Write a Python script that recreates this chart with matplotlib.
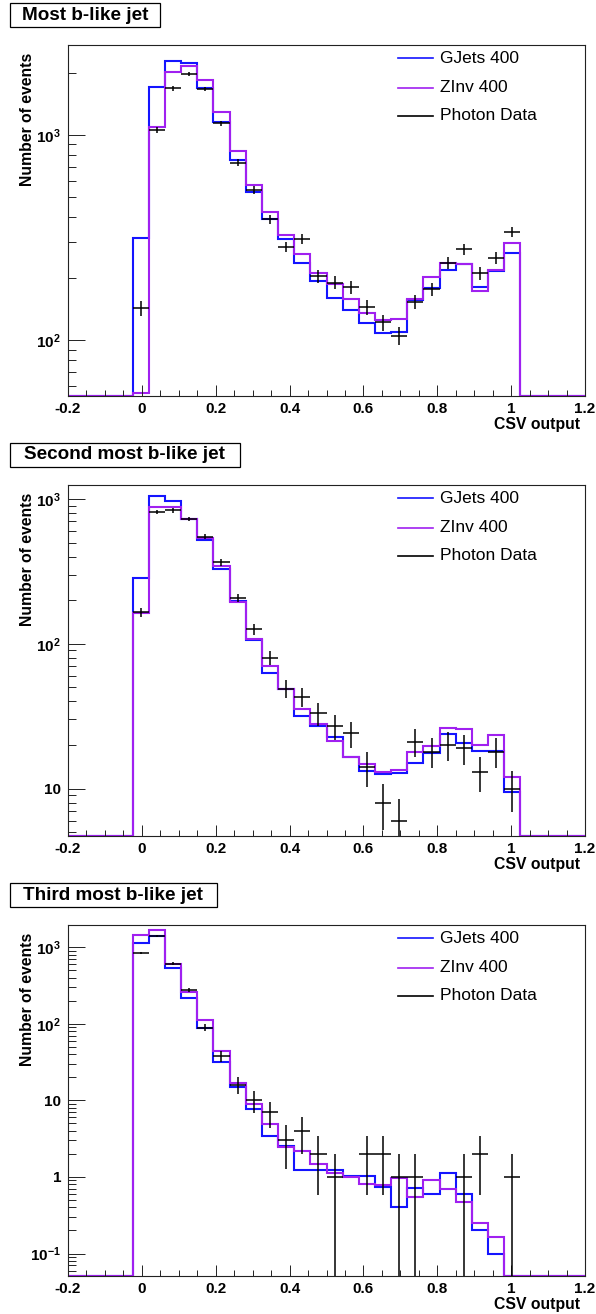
import numpy as np
import matplotlib
matplotlib.use('Agg')
import matplotlib.pyplot as plt
from matplotlib.ticker import LogLocator, NullFormatter, MultipleLocator, FuncFormatter
from matplotlib.patches import Rectangle
from matplotlib.lines import Line2D

plt.rcParams['font.family'] = ['Liberation Sans', 'DejaVu Sans']
plt.rcParams['font.weight'] = 'bold'
plt.rcParams['mathtext.fontset'] = 'custom'
plt.rcParams['mathtext.rm'] = 'Liberation Sans:bold'
plt.rcParams['mathtext.bf'] = 'Liberation Sans:bold'
plt.rcParams['mathtext.it'] = 'Liberation Sans:bold'
plt.rcParams['mathtext.default'] = 'regular'

# ---------------- data ----------------
bin_edges = np.linspace(-0.2, 1.2, 33)   # 32 bins of CSV output
first_bin = 4                            # first filled bin (starts at -0.025)

titles = ["Most b-like jet", "Second most b-like jet", "Third most b-like jet"]
series_names = ["GJets 400", "ZInv 400", "Photon Data"]
x_label = "CSV output"
y_label = "Number of events"
x_ticks = [-0.2, 0.0, 0.2, 0.4, 0.6, 0.8, 1.0, 1.2]
x_tick_labels = ["-0.2", "0", "0.2", "0.4", "0.6", "0.8", "1", "1.2"]

gjets_1 = [314, 1720, 2310, 2250, 1690, 1160, 755, 530, 391, 310, 239, 194,
           161, 140, 121, 108, 109, 157, 179, 221, 235, 181, 218, 265]
zinv_1 = [55, 1090, 2030, 2180, 1850, 1300, 832, 570, 421, 325, 263, 213,
          188, 158, 135, 125, 127, 158, 204, 237, 235, 173, 220, 298]
data_1 = [143, 1057, 1689, 1991, 1683, 1140, 735, 541, 389, 285, 311, 205,
          191, 181, 145, 122, 105, 154, 177, 238, 277, 212, 252, 338]

gjets_2 = [283, 1055, 963, 723, 521, 328, 199, 106, 63, 49, 31.6, 27.1,
           22.7, 16.5, 13.2, 12.6, 12.9, 15.0, 17.5, 23.7, 20.5, 18.2, 18.2, 9.5]
zinv_2 = [163, 885, 885, 723, 534, 344, 195, 108, 70, 49, 35.2, 27.8,
          21.2, 16.5, 14.7, 13.0, 13.4, 17.8, 19.6, 26.2, 25.6, 19.9, 23.4, 12.0]
data_2 = [165, 817, 835, 727, 550, 365, 208, 126, 80, 49, 43, 33,
          27, 24, 14, 8, 6, 21, 18, 20, 19, 13, 18, 10]

gjets_3 = [1130, 1400, 532, 215, 87, 31.9, 15.0, 7.8, 3.44, 2.54, 1.22, 1.22,
           1.22, 1.03, 1.03, 0.73, 0.405, 0.72, 0.607, 1.13, 0.607, 0.205, 0.1, 0]
zinv_3 = [1445, 1680, 610, 260, 111.6, 44.4, 17.1, 9.1, 4.99, 2.47, 2.19, 1.50,
          1.14, 1.01, 0.82, 0.795, 0.97, 0.548, 0.905, 0.705, 0.471, 0.253, 0.164, 0]
data_3 = [835, 1400, 610, 277, 89, 38, 16, 10, 7, 3, 4, 2,
          1, 0, 2, 2, 1, 1, 0, 0, 1, 2, 0, 1]

panels = [
    dict(title=titles[0], mc=[gjets_1, zinv_1], data=data_1, ylim=(53.4, 2750)),
    dict(title=titles[1], mc=[gjets_2, zinv_2], data=data_2, ylim=(4.70, 1250)),
    dict(title=titles[2], mc=[gjets_3, zinv_3], data=data_3, ylim=(0.0509, 1956)),
]

colors = ['#1414ff', '#a020f0', 'black']

# ---------------- layout ----------------
W, H = 596, 1314
fig = plt.figure(figsize=(W / 100, H / 100), dpi=100)
panel_tops = [45, 485, 925]
title_box_widths = [150.5, 230.5, 207.5]
ax_left, ax_w, ax_h = 68, 517, 351

def sup_label(v, pos):
    e = int(round(np.log10(v)))
    if e == 0:
        return "1"
    if e == 1:
        return "10"
    return r'$10^{%d}$' % e

def full(vals):
    arr = np.zeros(len(bin_edges) - 1)
    arr[first_bin:first_bin + len(vals)] = vals
    return arr

centers = 0.5 * (bin_edges[:-1] + bin_edges[1:])
half_w = 0.5 * (bin_edges[1] - bin_edges[0])

for p, top, bw in zip(panels, panel_tops, title_box_widths):
    ax = fig.add_axes([ax_left / W, 1 - (top + ax_h) / H, ax_w / W, ax_h / H])
    ax.set_yscale('log', nonpositive='clip')
    ymin, ymax = p['ylim']
    ax.set_xlim(-0.2, 1.2)
    ax.set_ylim(ymin, ymax)

    for vals, c in zip(p['mc'], colors[:2]):
        v = np.clip(full(vals), ymin, None)
        ax.stairs(v, bin_edges, baseline=None, color=c, lw=1.5)

    d = full(p['data'])
    m = d > 0
    n = d[m]
    err = np.sqrt(n)
    lower = np.minimum(err, n - ymin * 0.5)
    ax.errorbar(centers[m], n, xerr=half_w, yerr=[lower, err], fmt='none',
                ecolor='black', elinewidth=1.1, capsize=0)

    # axes styling
    for s in ax.spines.values():
        s.set_linewidth(0.8)
        s.set_color('#222222')
    ax.xaxis.set_minor_locator(MultipleLocator(0.05))
    ax.set_xticks(x_ticks)
    ax.set_xticklabels(x_tick_labels)
    ax.yaxis.set_major_locator(LogLocator(base=10))
    ax.yaxis.set_minor_locator(LogLocator(base=10, subs=np.arange(2, 10)))
    ax.yaxis.set_major_formatter(FuncFormatter(sup_label))
    ax.yaxis.set_minor_formatter(NullFormatter())
    ax.tick_params(which='both', direction='in', top=False, right=False,
                   labelsize=11, width=0.7, color='#222222')
    ax.tick_params(axis='x', which='major', length=7.7, pad=4)
    ax.tick_params(axis='x', which='minor', length=4)
    ax.tick_params(axis='y', which='major', length=12, pad=5)
    ax.tick_params(axis='y', which='minor', length=5.8)

    ax.text(-0.0785, 0.977, y_label, rotation=90, ha='center', va='top',
            transform=ax.transAxes, fontsize=11.3, fontweight='bold')
    ax.text(0.990, -0.0826, x_label, ha='right', va='center',
            transform=ax.transAxes, fontsize=11.3, fontweight='bold')

    # legend
    for name, c, yy in zip(series_names, colors, [0.962, 0.878, 0.799]):
        ax.add_line(Line2D([0.638, 0.706], [yy, yy], transform=ax.transAxes,
                           color=c, lw=1.2))
        ax.text(0.7195, yy, name, ha='left', va='center', transform=ax.transAxes,
                fontsize=12.5, fontweight='normal')

    # title box
    bx0, by0, bh = 9.5, top - 42, 24
    fig.text((bx0 + bw / 2) / W, 1 - (by0 + bh / 2) / H, p['title'],
             fontsize=13.6, fontweight='bold', ha='center', va='center')
    fig.add_artist(Rectangle((bx0 / W, 1 - (by0 + bh) / H), bw / W, bh / H,
                             transform=fig.transFigure, facecolor='white',
                             edgecolor='black', lw=0.9, zorder=-1))

fig.savefig('out.png', dpi=100)
